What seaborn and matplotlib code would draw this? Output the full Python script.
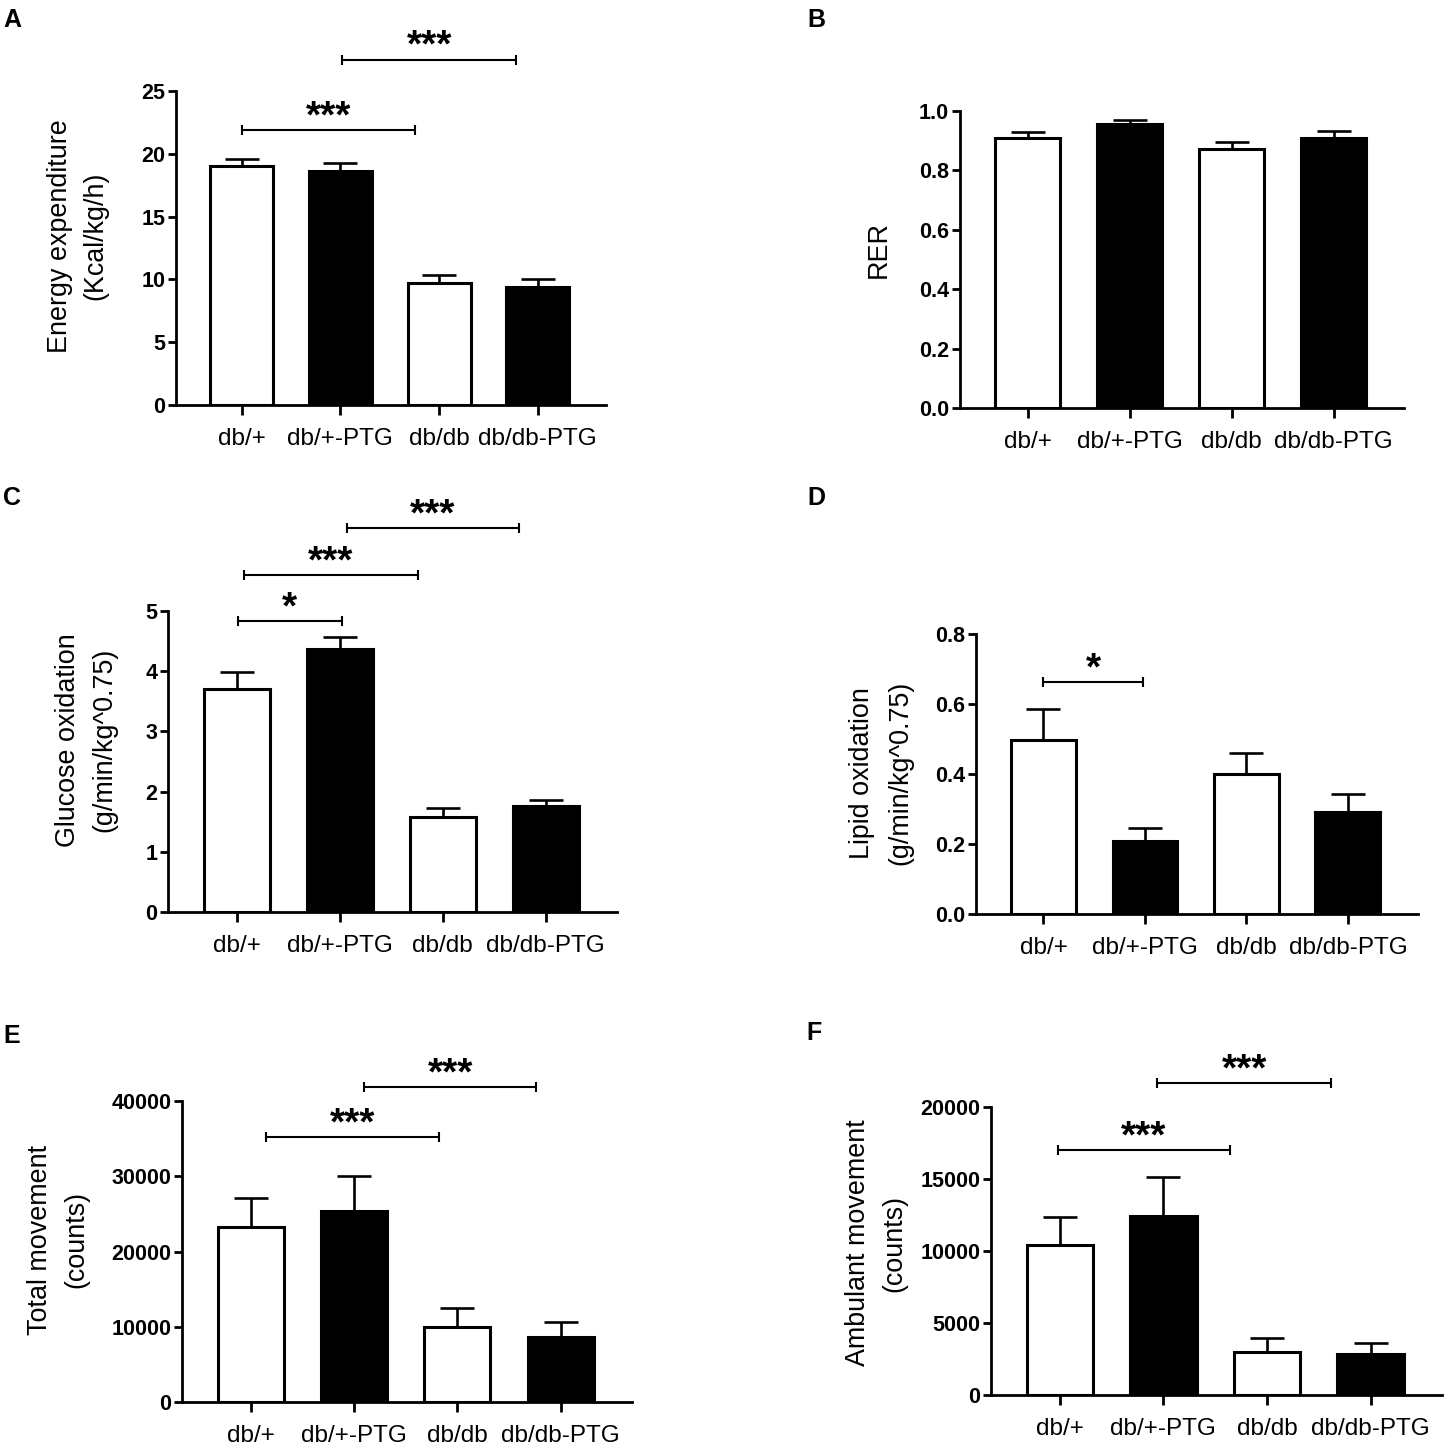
import numpy as np
import pandas as pd
import matplotlib
matplotlib.use("Agg")
from matplotlib import pyplot as plt
from matplotlib.ticker import FormatStrFormatter
import seaborn as sns

sns.set_style("ticks")
plt.rcParams['font.family'] = ['Liberation Sans', 'DejaVu Sans']
plt.rcParams.update({'text.color': 'black', 'axes.labelcolor': 'black',
                     'xtick.color': 'black', 'ytick.color': 'black',
                     'axes.edgecolor': 'black'})

groups = ['db/+', 'db/+-PTG', 'db/db', 'db/db-PTG']
fills = ['white', 'black', 'white', 'black']

# A - energy expenditure (Kcal/kg/h)
ee_mean = [19.0, 18.6, 9.7, 9.4]
ee_sem = [0.6, 0.65, 0.65, 0.6]
ee_sig = [(0.0, 1.76, 21.9, '***'), (1.02, 2.78, 27.5, '***')]

# B - RER
rer_mean = [0.910, 0.956, 0.873, 0.909]
rer_sem = [0.019, 0.014, 0.023, 0.024]
rer_sig = []

# C - glucose oxidation
glu_mean = [3.70, 4.37, 1.58, 1.76]
glu_sem = [0.29, 0.20, 0.15, 0.10]
glu_sig = [(0.01, 1.02, 4.83, '*'), (0.07, 1.76, 5.60, '***'), (1.07, 2.74, 6.38, '***')]

# D - lipid oxidation
lip_mean = [0.497, 0.209, 0.400, 0.291]
lip_sem = [0.089, 0.037, 0.060, 0.052]
lip_sig = [(0.0, 0.98, 0.663, '*')]

# E - total movement
tot_mean = [23300, 25400, 9950, 8650]
tot_sem = [3800, 4650, 2550, 2000]
tot_sig = [(0.15, 1.82, 35200, '***'), (1.10, 2.76, 41860, '***')]

# F - ambulant movement
amb_mean = [10400, 12450, 3000, 2850]
amb_sem = [1950, 2700, 950, 750]
amb_sig = [(-0.02, 1.64, 17000, '***'), (0.94, 2.62, 21670, '***')]

W, H = 1444, 1447
fig = plt.figure(figsize=(W / 100, H / 100), dpi=100)


def add_ax(l, t, r, b):
    return fig.add_axes([l / W, 1 - b / H, (r - l) / W, (b - t) / H])


def bar_panel(ax, means, sems, ylim, yticks, sig, fmt=None):
    df = pd.DataFrame({'group': groups, 'value': means})
    sns.barplot(data=df, x='group', y='value', hue='group',
                palette=dict(zip(groups, fills)), edgecolor='black',
                linewidth=2.2, width=0.64, errorbar=None, legend=False, ax=ax)
    ax.errorbar(np.arange(len(groups)), means, yerr=[np.zeros(len(sems)), sems],
                fmt='none', ecolor='black', elinewidth=1.9, capsize=12,
                capthick=1.9, zorder=3)
    ax.set_xlim(-0.665, 3.69)
    ax.set_ylim(*ylim)
    ax.set_yticks(yticks)
    if fmt:
        ax.yaxis.set_major_formatter(FormatStrFormatter(fmt))
    ax.set_xlabel('')
    ax.set_ylabel('')
    sns.despine(ax=ax)
    for s in ['left', 'bottom']:
        ax.spines[s].set_linewidth(2.0)
    ax.tick_params(axis='y', length=5.8, width=2, pad=2, labelsize=15.5)
    ax.tick_params(axis='x', length=7.5, width=2, pad=9, labelsize=17.5)
    for lab in ax.get_yticklabels():
        lab.set_fontweight('bold')
    for x1, x2, y, txt in sig:
        ax.plot([x1, x2], [y, y], color='black', lw=1.5, marker='|', ms=7,
                mew=1.5, clip_on=False)
        ax.annotate(txt, xy=((x1 + x2) / 2, y), xytext=(0, 2.0),
                    textcoords='offset points', ha='center', va='baseline',
                    fontsize=28, fontweight='bold', annotation_clip=False)


def ylab(lines, xs, yc):
    for txt, x in zip(lines, xs):
        fig.text(x / W, 1 - yc / H, txt, rotation=90, ha='center', va='center',
                 fontsize=19.4)


def letter(txt, x, y):
    fig.text(x / W, 1 - y / H, txt, ha='left', va='top', fontsize=18,
             fontweight='bold')


axA = add_ax(176, 91, 606, 405)
bar_panel(axA, ee_mean, ee_sem, (0, 25), [0, 5, 10, 15, 20, 25], ee_sig)
ylab(['Energy expenditure', '(Kcal/kg/h)'], [60, 95], 236)
letter('A', 3, 8)

axB = add_ax(960, 111, 1404, 408)
bar_panel(axB, rer_mean, rer_sem, (0, 1.0), [0, 0.2, 0.4, 0.6, 0.8, 1.0], rer_sig, '%.1f')
ylab(['RER'], [879], 250)
letter('B', 807, 8)

axC = add_ax(168, 611, 617, 912)
bar_panel(axC, glu_mean, glu_sem, (0, 5), [0, 1, 2, 3, 4, 5], glu_sig)
ylab(['Glucose oxidation', '(g/min/kg^0.75)'], [68, 104], 740)
letter('C', 3, 486)

axD = add_ax(976, 634, 1418, 914)
bar_panel(axD, lip_mean, lip_sem, (0, 0.8), [0, 0.2, 0.4, 0.6, 0.8], lip_sig, '%.1f')
ylab(['Lipid oxidation', '(g/min/kg^0.75)'], [862, 900], 773)
letter('D', 807, 486)

axE = add_ax(182, 1101, 632, 1402)
bar_panel(axE, tot_mean, tot_sem, (0, 40000), [0, 10000, 20000, 30000, 40000], tot_sig)
ylab(['Total movement', '(counts)'], [40, 76], 1240)
letter('E', 3, 1024)

axF = add_ax(991, 1107, 1442, 1395)
bar_panel(axF, amb_mean, amb_sem, (0, 20000), [0, 5000, 10000, 15000, 20000], amb_sig)
ylab(['Ambulant movement', '(counts)'], [858, 894], 1243)
letter('F', 806, 1021)

fig.savefig('out.png', dpi=100)
